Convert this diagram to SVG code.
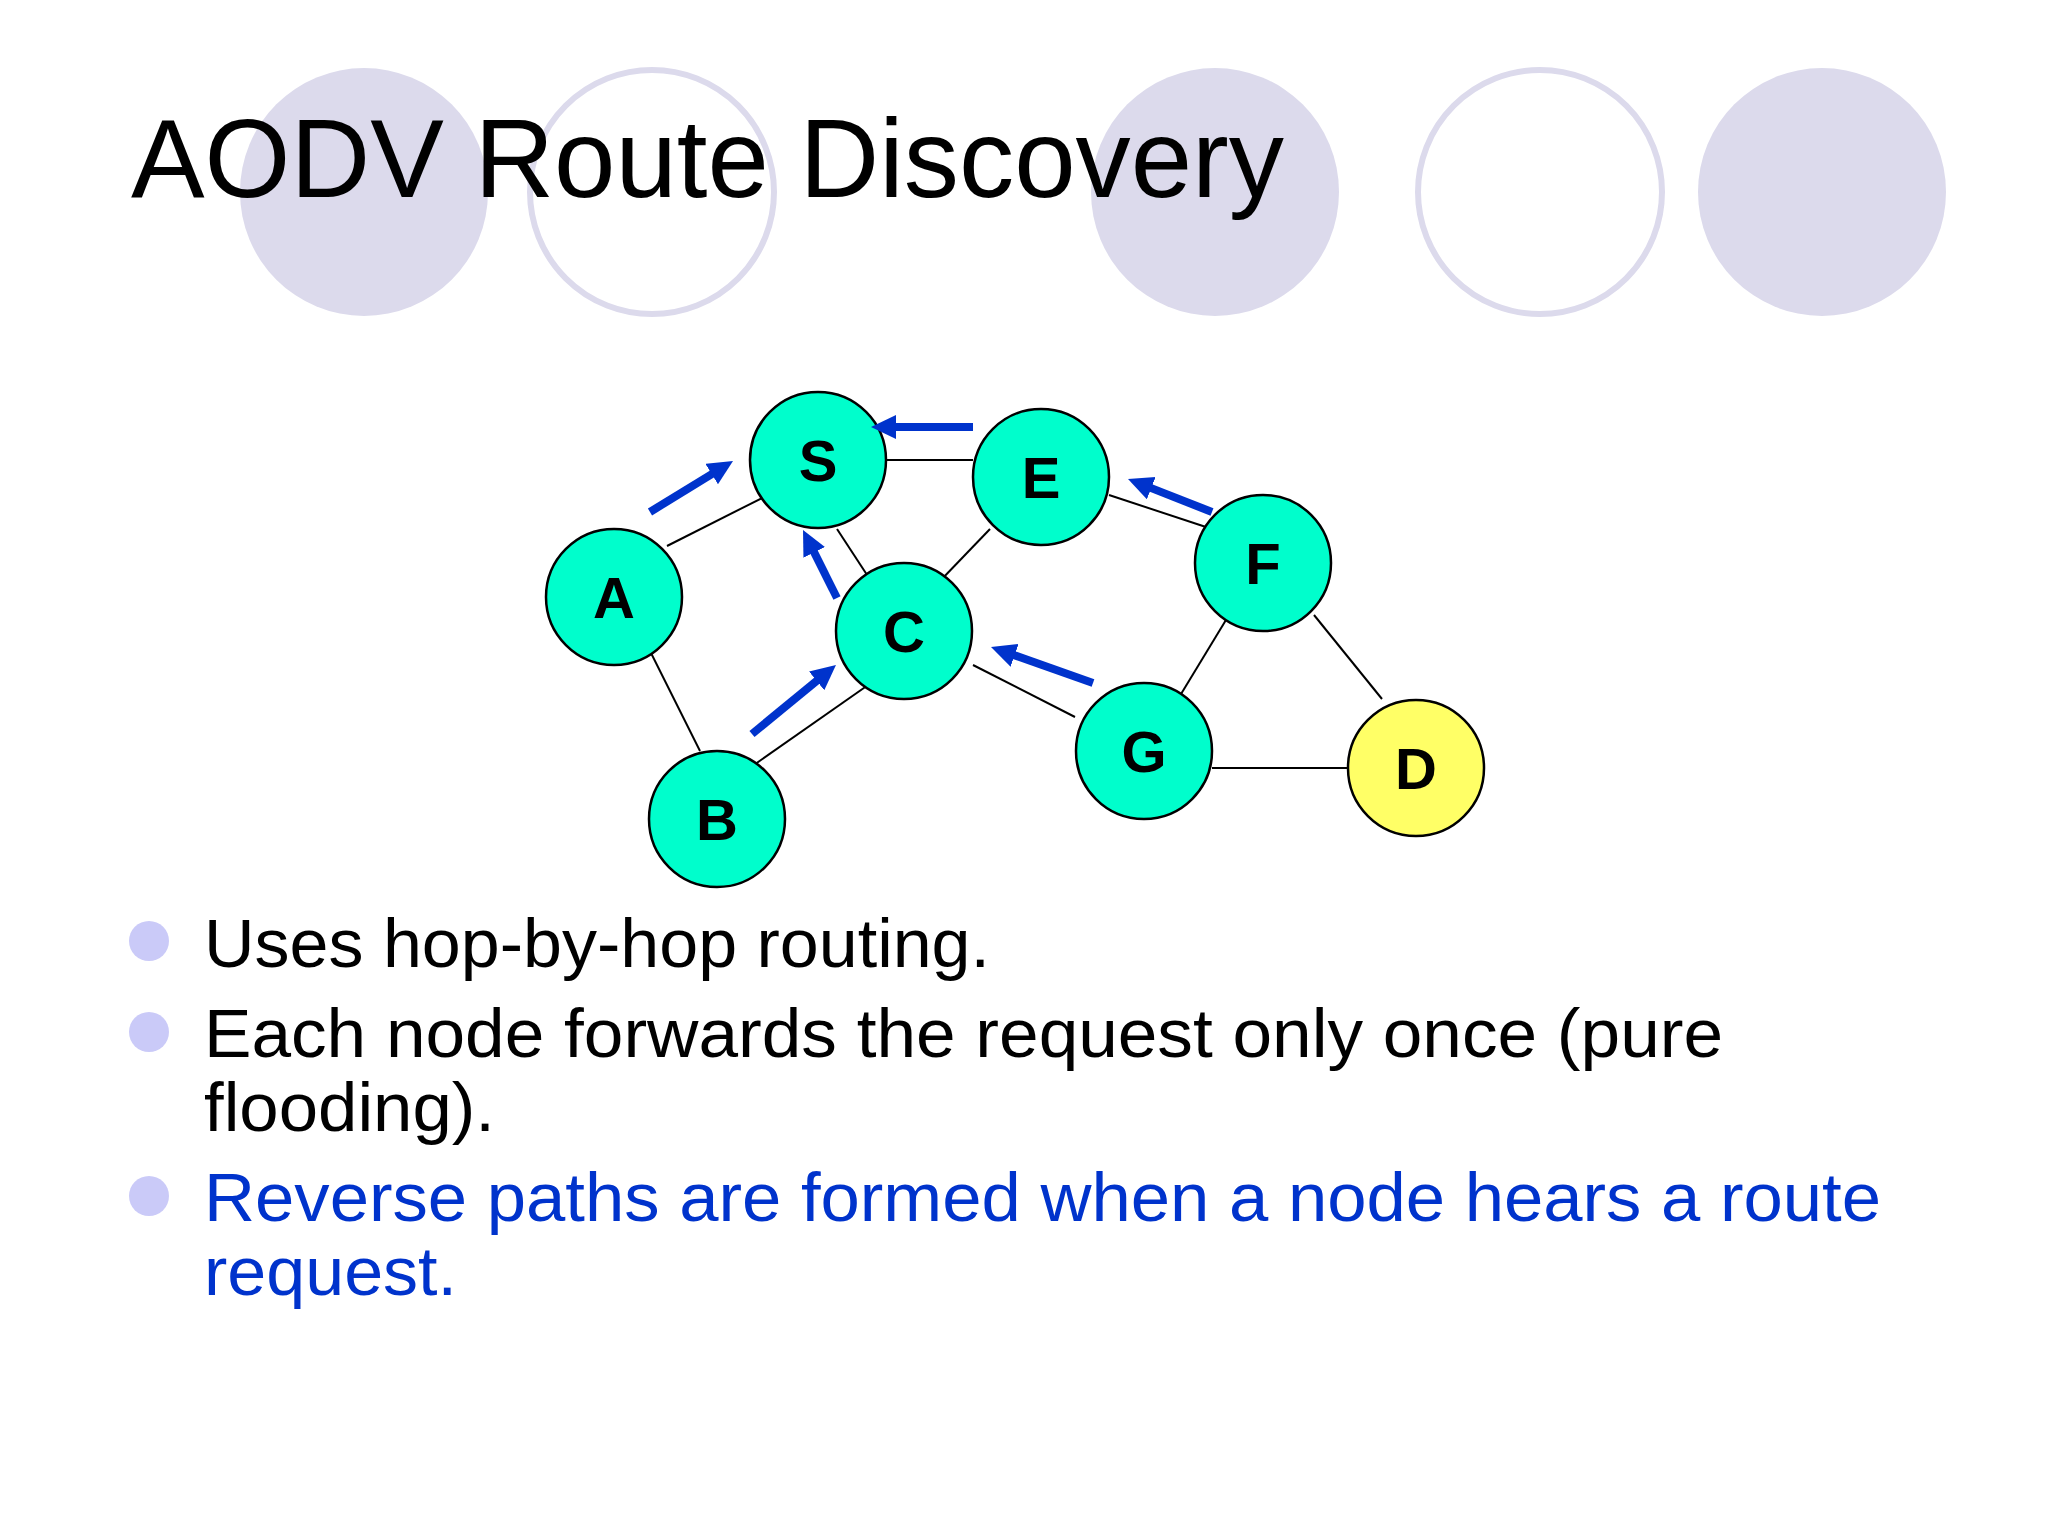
<svg xmlns="http://www.w3.org/2000/svg" width="2048" height="1536" viewBox="0 0 2048 1536">
<style>
.deco-f{fill:#DCDAEC;stroke:none}
.deco-o{fill:#FFFFFF;stroke:#DCDAEC;stroke-width:6}
.title{font-family:"Liberation Sans","DejaVu Sans",sans-serif;font-size:112px;fill:#000}
.body{font-family:"Liberation Sans","DejaVu Sans",sans-serif;font-size:68px;fill:#000}
.blue{fill:#0033CC}
.bullet{fill:#CACAF8}
.node circle{stroke:#000;stroke-width:2.5}
.teal{fill:#00FECC}
.yellow{fill:#FFFF66}
.node text{font-family:"Liberation Sans",Arial,sans-serif;font-weight:bold;font-size:58px;fill:#000;text-anchor:middle}
.edge{stroke:#000;stroke-width:2;fill:none}
.arrow{stroke:#0033CC;stroke-width:8;fill:none;marker-end:url(#ah)}
</style>
<defs>
<marker id="ah" markerUnits="userSpaceOnUse" markerWidth="26" markerHeight="26" refX="2" refY="12" orient="auto">
<path d="M0,0 L25,12 L0,24 z" fill="#0033CC"/>
</marker>
</defs>
<rect width="2048" height="1536" fill="#FFFFFF"/>
<g id="decoration">
<circle class="deco-f" cx="364" cy="192" r="124"/>
<circle class="deco-o" cx="652" cy="192" r="122"/>
<circle class="deco-f" cx="1215" cy="192" r="124"/>
<circle class="deco-o" cx="1540" cy="192" r="122"/>
<circle class="deco-f" cx="1822" cy="192" r="124"/>
</g>
<text class="title" x="131" y="197" textLength="1153" lengthAdjust="spacingAndGlyphs">AODV Route Discovery</text>
<g id="connectors">
<line class="edge" x1="667" y1="546" x2="768" y2="495"/>
<line class="edge" x1="887" y1="460" x2="973" y2="460"/>
<line class="edge" x1="837" y1="529" x2="871" y2="581"/>
<line class="edge" x1="990" y1="529" x2="940" y2="581"/>
<line class="edge" x1="649" y1="649" x2="700" y2="751"/>
<line class="edge" x1="751" y1="767" x2="871" y2="683"/>
<line class="edge" x1="973" y1="665" x2="1075" y2="717"/>
<line class="edge" x1="1109" y1="495" x2="1212" y2="529"/>
<line class="edge" x1="1229" y1="615" x2="1178" y2="699"/>
<line class="edge" x1="1314" y1="615" x2="1382" y2="699"/>
<line class="edge" x1="1212" y1="768" x2="1348" y2="768"/>
</g>
<g id="nodes">
<g id="node-S" class="node"><circle class="teal" cx="818" cy="460" r="68"/><text x="818" y="481">S</text></g>
<g id="node-E" class="node"><circle class="teal" cx="1041" cy="477" r="68"/><text x="1041" y="498">E</text></g>
<g id="node-A" class="node"><circle class="teal" cx="614" cy="597" r="68"/><text x="614" y="618">A</text></g>
<g id="node-C" class="node"><circle class="teal" cx="904" cy="631" r="68"/><text x="904" y="652">C</text></g>
<g id="node-B" class="node"><circle class="teal" cx="717" cy="819" r="68"/><text x="717" y="840">B</text></g>
<g id="node-F" class="node"><circle class="teal" cx="1263" cy="563" r="68"/><text x="1263" y="584">F</text></g>
<g id="node-G" class="node"><circle class="teal" cx="1144" cy="751" r="68"/><text x="1144" y="772">G</text></g>
<g id="node-D" class="node"><circle class="yellow" cx="1416" cy="768" r="68"/><text x="1416" y="789">D</text></g>
</g>
<g id="arrows">
<line class="arrow" x1="973" y1="427" x2="894" y2="427"/>
<line class="arrow" x1="650" y1="512" x2="713.4" y2="473.1"/>
<line class="arrow" x1="837" y1="598" x2="813.3" y2="550.6"/>
<line class="arrow" x1="752" y1="734" x2="818.2" y2="679.6"/>
<line class="arrow" x1="1093" y1="683" x2="1012.7" y2="654.7"/>
<line class="arrow" x1="1212" y1="512" x2="1149.4" y2="487.4"/>
</g>
<g id="bullets">
<circle class="bullet" cx="149" cy="941" r="20"/>
<circle class="bullet" cx="149" cy="1032" r="20"/>
<circle class="bullet" cx="149" cy="1196" r="20"/>
<text class="body" x="204" y="967" textLength="786" lengthAdjust="spacingAndGlyphs">Uses hop-by-hop routing.</text>
<text class="body" x="204" y="1057" textLength="1519" lengthAdjust="spacingAndGlyphs">Each node forwards the request only once (pure</text>
<text class="body" x="204" y="1131" textLength="291" lengthAdjust="spacingAndGlyphs">flooding).</text>
<text class="body blue" x="204" y="1221" textLength="1677" lengthAdjust="spacingAndGlyphs">Reverse paths are formed when a node hears a route</text>
<text class="body blue" x="204" y="1295" textLength="253" lengthAdjust="spacingAndGlyphs">request.</text>
</g>
</svg>
